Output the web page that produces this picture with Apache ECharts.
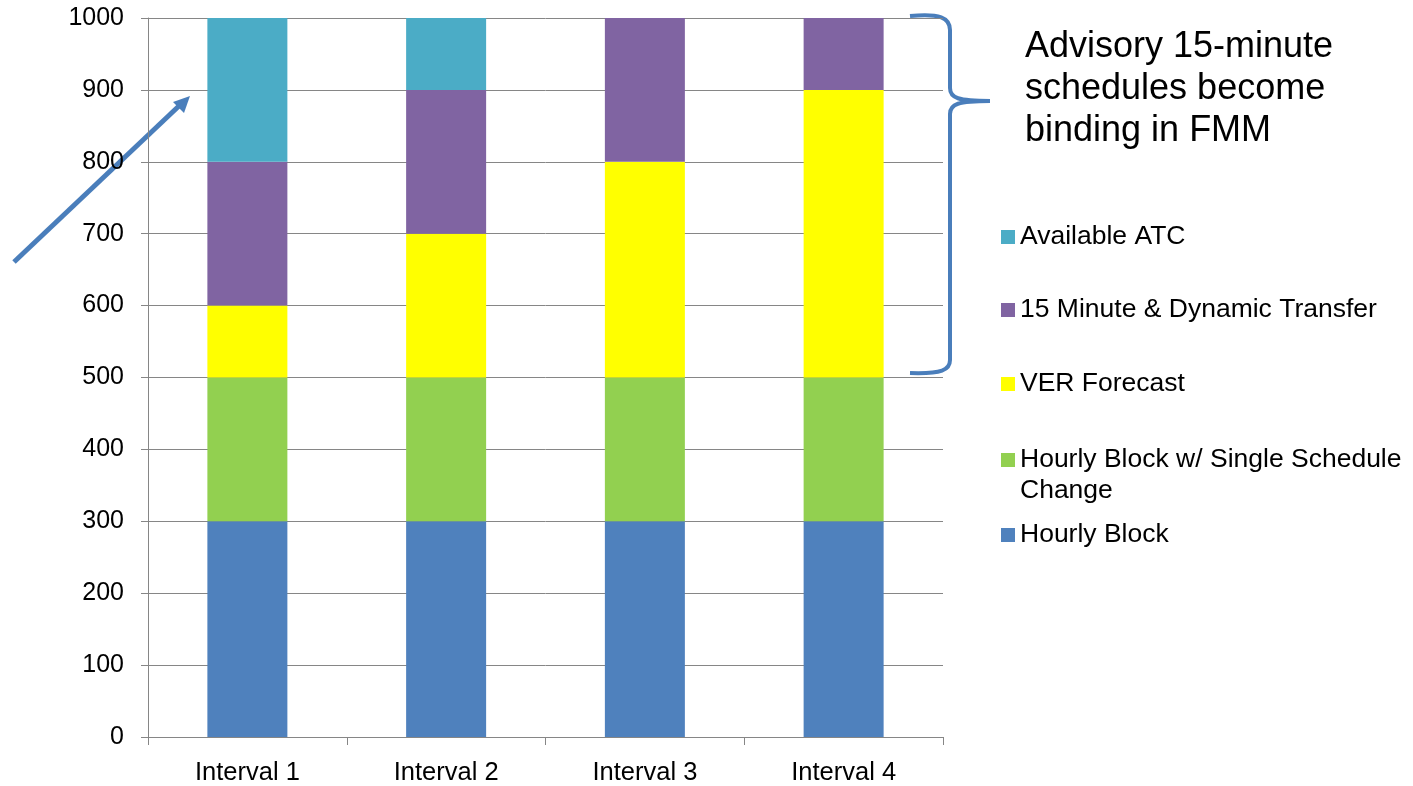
<!DOCTYPE html>
<html>
<head>
<meta charset="utf-8">
<script src="https://cdn.jsdelivr.net/npm/echarts@6/dist/echarts.min.js"></script>
<style>html,body{margin:0;padding:0;background:#fff;}#main{width:1413px;height:786px;}</style>
</head>
<body>
<div id="main"></div>
<script>
const categories = ['Interval 1', 'Interval 2', 'Interval 3', 'Interval 4'];
const seriesNames = ['Hourly Block', 'Hourly Block w/ Single Schedule Change', 'VER Forecast', '15 Minute & Dynamic Transfer', 'Available ATC'];
const hourlyBlock = [300, 300, 300, 300];
const hourlySingleChange = [200, 200, 200, 200];
const verForecast = [100, 200, 300, 400];
const fifteenMinute = [200, 200, 200, 100];
const availableATC = [200, 100, 0, 0];
const yTicks = [0, 100, 200, 300, 400, 500, 600, 700, 800, 900, 1000];
const annotationText = 'Advisory 15-minute\nschedules become\nbinding in FMM';

const colors = ['#4F81BD', '#92D050', '#FFFF00', '#8064A2', '#4BACC6'];
const values = [hourlyBlock, hourlySingleChange, verForecast, fifteenMinute, availableATC];
const FONT = "'Liberation Sans', Arial, sans-serif";

const chart = echarts.init(document.getElementById('main'));

// legend row centers (y)
const legendCenters = {
  'Available ATC': 237,
  '15 Minute & Dynamic Transfer': 310,
  'VER Forecast': 384,
  'Hourly Block w/ Single Schedule Change': 460,
  'Hourly Block': 535
};
const LEG_LH = 30;
const legends = Object.keys(legendCenters).map(name => {
  const twoLine = name === 'Hourly Block w/ Single Schedule Change';
  return {
    data: [name],
    left: 1001,
    top: legendCenters[name] - LEG_LH / 2,
    padding: 0,
    orient: 'vertical',
    icon: 'rect',
    itemWidth: 14,
    itemHeight: 14,
    selectedMode: false,
    formatter: twoLine ? 'Hourly Block w/ Single Schedule' : '{name}',
    textStyle: { fontFamily: FONT, fontSize: 26.5, color: '#000', lineHeight: LEG_LH }
  };
});

const braceStyle = { stroke: '#4A7EBB', lineWidth: 4, fill: null };

chart.setOption({
  animation: false,
  backgroundColor: '#ffffff',
  grid: { left: 148, right: 470, top: 18, bottom: 45, containLabel: false },
  legend: legends,
  xAxis: {
    type: 'category',
    data: categories,
    boundaryGap: true,
    axisLine: { lineStyle: { color: '#868686', width: 1 } },
    axisTick: { show: true, length: 8, lineStyle: { color: '#868686' } },
    axisLabel: { fontFamily: FONT, fontSize: 25.5, color: '#000', margin: 23 }
  },
  yAxis: {
    type: 'value',
    min: yTicks[0],
    max: yTicks[yTicks.length - 1],
    interval: 100,
    axisLine: { show: true, lineStyle: { color: '#868686', width: 1 } },
    axisTick: { show: true, length: 7, lineStyle: { color: '#868686' } },
    splitLine: { show: true, lineStyle: { color: '#868686', width: 1 } },
    axisLabel: { fontFamily: FONT, fontSize: 25, color: '#000', margin: 24, formatter: v => String(v) }
  },
  series: seriesNames.map((name, i) => ({
    name: name,
    type: 'bar',
    stack: 'total',
    barWidth: 80,
    data: values[i],
    itemStyle: { color: colors[i] }
  })),
  graphic: [
    { type: 'bezierCurve', shape: { x1: 910, y1: 16, cpx1: 940, cpy1: 13, cpx2: 950, cpy2: 18, x2: 950, y2: 30 }, style: braceStyle },
    { type: 'line', shape: { x1: 950, y1: 30, x2: 950, y2: 88 }, style: braceStyle },
    { type: 'bezierCurve', shape: { x1: 950, y1: 88, cpx1: 950, cpy1: 98, cpx2: 958, cpy2: 101, x2: 990, y2: 101 }, style: braceStyle },
    { type: 'bezierCurve', shape: { x1: 990, y1: 101, cpx1: 958, cpy1: 101, cpx2: 950, cpy2: 104, x2: 950, y2: 114 }, style: braceStyle },
    { type: 'line', shape: { x1: 950, y1: 114, x2: 950, y2: 360 }, style: braceStyle },
    { type: 'bezierCurve', shape: { x1: 950, y1: 360, cpx1: 950, cpy1: 370, cpx2: 942, cpy2: 374, x2: 910, y2: 373 }, style: braceStyle },
    { type: 'line', shape: { x1: 14, y1: 262, x2: 180, y2: 105 }, style: { stroke: '#4A7EBB', lineWidth: 5 } },
    { type: 'polygon', shape: { points: [[190, 96], [184, 113], [173, 102]] }, style: { fill: '#4A7EBB' } },
    {
      type: 'text',
      left: 1020,
      top: 491 - LEG_LH / 2,
      style: { text: 'Change', fontFamily: FONT, fontSize: 26.5, lineHeight: LEG_LH, fill: '#000' }
    },
    {
      type: 'text',
      left: 1025,
      top: 26,
      style: { text: annotationText, fontFamily: FONT, fontSize: 36, lineHeight: 42, fill: '#000' }
    }
  ]
});
</script>
</body>
</html>
